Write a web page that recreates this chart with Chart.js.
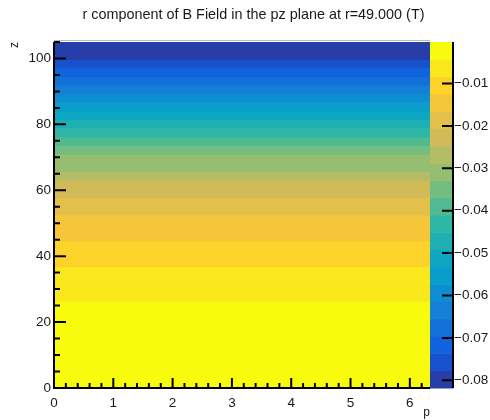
<!DOCTYPE html>
<html>
<head>
<meta charset="utf-8">
<script src="https://cdn.jsdelivr.net/npm/chart.js@4.4.0/dist/chart.umd.min.js"></script>
<style>
  html, body { margin: 0; padding: 0; background: #fff; }
  #wrap { position: relative; width: 490px; height: 420px; }
</style>
</head>
<body>
<div id="wrap"><canvas id="chart" width="490" height="420"></canvas></div>
<script>
// histogram binning (z in 40 bins, phi over one full turn)
const zRange = [0, 105];
const zBinCount = 40;
const phiRange = [0, 6.34];

// Br (T) in each z bin, bottom (z=0) to top (z=105); constant along phi
const brValues = [
  -0.0002, -0.0004, -0.0007, -0.0010, -0.0014, -0.0018, -0.0023, -0.0028, -0.0034, -0.0040,
  -0.0047, -0.0056, -0.0066, -0.0077, -0.0088, -0.0101, -0.0114, -0.0128, -0.0142, -0.0157,
  -0.0172, -0.0188, -0.0210, -0.0232, -0.0262, -0.0295, -0.0318, -0.0345, -0.0385, -0.0425,
  -0.0468, -0.0510, -0.0550, -0.0592, -0.0633, -0.0675, -0.0715, -0.0755, -0.0800, -0.0818
];

const xTicks = [0, 1, 2, 3, 4, 5, 6];
const yTicks = [0, 20, 40, 60, 80, 100];
const cbTicks = [-0.08, -0.07, -0.06, -0.05, -0.04, -0.03, -0.02, -0.01];

const titleText = 'r component of B Field in the pz plane at r=49.000 (T)';

// ROOT kBird palette
const birdStops = [0.0, 0.125, 0.25, 0.375, 0.5, 0.625, 0.75, 0.875, 1.0];
const birdRed = [0.2082, 0.0592, 0.0780, 0.0232, 0.1802, 0.5301, 0.8186, 0.9956, 0.9764];
const birdGreen = [0.1664, 0.3599, 0.5041, 0.6419, 0.7178, 0.7492, 0.7328, 0.7862, 0.9832];
const birdBlue = [0.5293, 0.8684, 0.8385, 0.7914, 0.6425, 0.4662, 0.3499, 0.1968, 0.0539];
const nLevels = 20;
const nColors = 255;

const zBinWidth = (zRange[1] - zRange[0]) / zBinCount;
const zCenters = brValues.map((_, i) => zRange[0] + (i + 0.5) * zBinWidth);
const zMin = Math.min(...brValues);
const zMax = Math.max(...brValues);

function birdColor(t) {
    let k = 1;
    while (k < birdStops.length - 1 && t > birdStops[k]) k++;
    const f = (t - birdStops[k - 1]) / (birdStops[k] - birdStops[k - 1]);
    const mix = arr => Math.round(255 * (arr[k - 1] + f * (arr[k] - arr[k - 1])));
    return `rgb(${mix(birdRed)}, ${mix(birdGreen)}, ${mix(birdBlue)})`;
}

function levelOf(v) {
    const l = Math.floor(0.01 + (v - zMin) * nLevels / (zMax - zMin));
    return Math.max(0, Math.min(nLevels - 1, l));
}

function levelColor(l) {
    const idx = Math.min(nColors - 1, Math.floor((l + 0.99) * nColors / nLevels));
    return birdColor(idx / (nColors - 1));
}

const font = { family: '"Liberation Sans", Arial, sans-serif', size: 13.5 };
const ink = '#1a1a1a';

// ROOT-like frame: inward ticks, colour bar, title
const rootFrame = {
    id: 'rootFrame',
    afterDatasetsDraw(chart) {
        const { ctx, chartArea: a, scales: { x, y, cb } } = chart;
        const barLeft = a.right;
        const barRight = a.right + 23;
        const step = (zMax - zMin) / nLevels;

        ctx.save();
        for (let l = 0; l < nLevels; l++) {
            const yLo = cb.getPixelForValue(zMin + l * step);
            const yHi = cb.getPixelForValue(zMin + (l + 1) * step);
            ctx.fillStyle = levelColor(l);
            ctx.fillRect(barLeft, yHi, barRight - barLeft, yLo - yHi + 0.6);
        }

        // thin frame top
        ctx.strokeStyle = '#b8b8b8';
        ctx.lineWidth = 1;
        ctx.beginPath();
        ctx.moveTo(a.left, a.top - 1.5);
        ctx.lineTo(a.right, a.top - 1.5);
        ctx.stroke();

        ctx.strokeStyle = '#000';
        ctx.lineWidth = 2;
        ctx.beginPath();
        // axis lines
        ctx.moveTo(a.left, a.top);
        ctx.lineTo(a.left, a.bottom);
        ctx.lineTo(a.right, a.bottom);
        ctx.moveTo(barRight, a.top);
        ctx.lineTo(barRight, a.bottom);

        // y ticks: major 20, minor 5
        for (let v = 5; v <= zRange[1] + 1e-9; v += 5) {
            const py = y.getPixelForValue(v);
            const len = yTicks.includes(v) ? 12 : 6;
            ctx.moveTo(a.left, py);
            ctx.lineTo(a.left + len, py);
        }
        // x ticks: major 1, minor 0.2
        for (let i = 1; i * 0.2 <= phiRange[1]; i++) {
            const px = x.getPixelForValue(i * 0.2);
            const len = i % 5 === 0 ? 10 : 5;
            ctx.moveTo(px, a.bottom);
            ctx.lineTo(px, a.bottom - len);
        }
        // colour bar ticks
        cbTicks.forEach(v => {
            const py = cb.getPixelForValue(v);
            ctx.moveTo(barRight, py);
            ctx.lineTo(barRight - 11, py);
        });
        ctx.stroke();

        ctx.fillStyle = ink;
        ctx.font = `14.4px ${font.family}`;
        ctx.textAlign = 'center';
        ctx.textBaseline = 'middle';
        ctx.fillText(titleText, 253.5, 15);
        ctx.restore();
    }
};

const ctx = document.getElementById('chart').getContext('2d');
new Chart(ctx, {
    type: 'bar',
    data: {
        datasets: [{
            data: zCenters.map(z => ({ y: z, x: [phiRange[0], phiRange[1]] })),
            backgroundColor: brValues.map(v => levelColor(levelOf(v))),
            borderWidth: 0,
            categoryPercentage: 1,
            barPercentage: 1,
            xAxisID: 'x',
            yAxisID: 'y'
        }]
    },
    options: {
        indexAxis: 'y',
        responsive: false,
        animation: false,
        events: [],
        layout: { padding: { top: 42, left: 0, right: 0, bottom: 0 } },
        plugins: {
            legend: { display: false },
            tooltip: { enabled: false },
            title: { display: false }
        },
        scales: {
            x: {
                type: 'linear',
                position: 'bottom',
                offset: false,
                min: phiRange[0],
                max: phiRange[1],
                grid: { display: false, drawTicks: false, offset: false },
                border: { display: false },
                ticks: { color: ink, font: font, padding: 7, maxRotation: 0, autoSkip: false },
                afterBuildTicks: s => { s.ticks = xTicks.map(v => ({ value: v })); },
                afterFit: s => { s.height = 28; },
                title: {
                    display: true, text: 'p', align: 'end', color: ink,
                    font: { family: font.family, size: 12 },
                    padding: { top: 0, bottom: -4 }
                }
            },
            y: {
                type: 'linear',
                position: 'left',
                offset: false,
                min: zRange[0],
                max: zRange[1],
                grid: { display: false, drawTicks: false, offset: false },
                border: { display: false },
                ticks: { color: ink, font: font, padding: 3, autoSkip: false },
                afterBuildTicks: s => { s.ticks = yTicks.map(v => ({ value: v })); },
                afterFit: s => { s.width = 54; },
                title: {
                    display: true, text: 'z', align: 'end', color: ink,
                    font: { family: font.family, size: 12 },
                    padding: { top: 7, bottom: 0 }
                }
            },
            cb: {
                type: 'linear',
                axis: 'y',
                position: 'right',
                offset: false,
                min: zMin,
                max: zMax,
                grid: { display: false, drawTicks: false, offset: false },
                border: { display: false },
                ticks: {
                    color: ink, font: font, padding: 24, autoSkip: false,
                    callback: v => '\u2212' + Math.abs(v).toFixed(2)
                },
                afterBuildTicks: s => { s.ticks = cbTicks.map(v => ({ value: v })); },
                afterFit: s => { s.width = 60; }
            }
        }
    },
    plugins: [rootFrame]
});
</script>
</body>
</html>
